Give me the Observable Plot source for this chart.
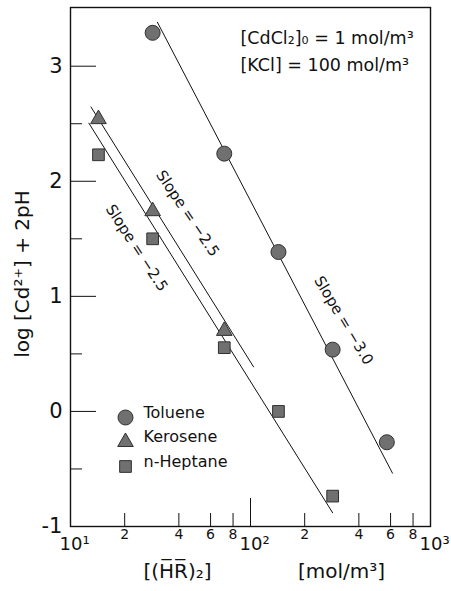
<!DOCTYPE html>
<html>
<head>
<meta charset="utf-8">
<script src="https://cdn.jsdelivr.net/npm/d3@7"></script>
<script src="https://cdn.jsdelivr.net/npm/@observablehq/plot@0.6"></script>
<style>
  body { margin: 0; background: #fff; }
  #chart svg { font-family: "DejaVu Sans", sans-serif; background: #fff; }
</style>
</head>
<body>
<div id="chart"></div>
<script>
// Dimer extractant concentration [(HR)2] in mol/m3 and log[Cd2+] + 2pH per diluent
const tolueneX = [28.6, 71.5, 143, 286, 572];
const tolueneY = [3.29, 2.24, 1.385, 0.537, -0.268];
const keroseneX = [14.3, 28.6, 71.5];
const keroseneY = [2.54, 1.74, 0.70];
const heptaneX = [14.3, 28.6, 71.5, 143, 286];
const heptaneY = [2.23, 1.50, 0.554, 0.0, -0.736];

const seriesNames = ["Toluene", "Kerosene", "n-Heptane"];
const seriesSymbols = ["circle", "triangle", "square"];
const seriesRadius = [7.5, 5.8, 6.6];

// Fitted straight lines: log[Cd2+] + 2pH = intercept + slope * log[(HR)2]
const fitSlope = [-3.0, -2.5, -2.5];
const fitIntercept = [7.83, 5.43, 5.26];
const fitFrom = [30.4, 13.0, 12.65];
const fitTo = [615, 104, 286];

// Slope annotations
const slopeText = ["Slope = \u22122.5", "Slope = \u22122.5", "Slope = \u22123.0"];
const slopeX = [44.7, 23.3, 329];
const slopeY = [1.72, 1.42, 0.79];
const slopeAngle = [56, 57, 59];

// Axis ticks
const yMajor = [-1, 0, 1, 2, 3];
const yMinor = [-0.5, 0.5, 1.5, 2.5];
const xDecades = [10, 100, 1000];
const xDecadeLabels = ["10\u00B9", "10\u00B2", "10\u00B3"];
const xMinor = [20, 40, 60, 80, 200, 400, 600, 800];
const xMinorLabels = ["2", "4", "6", "8", "2", "4", "6", "8"];
const xInner = [100];

const conditions = ["[CdCl\u2082]\u2080 = 1 mol/m\u00B3", "[KCl] = 100 mol/m\u00B3"];

const xs = [tolueneX, keroseneX, heptaneX];
const ys = [tolueneY, keroseneY, heptaneY];
const points = seriesNames.flatMap((name, i) =>
  xs[i].map((x, j) => ({series: name, x, y: ys[i][j]})));
const fits = seriesNames.flatMap((name, i) =>
  [fitFrom[i], fitTo[i]].map(x => ({series: name, x, y: fitIntercept[i] + fitSlope[i] * Math.log10(x)})));
const slopes = slopeText.map((t, i) => ({t, x: slopeX[i], y: slopeY[i], a: slopeAngle[i]}));
const minorTicks = xMinor.map((x, i) => ({x, t: xMinorLabels[i]}));
const decadeTicks = xDecades.map((x, i) => ({x, t: xDecadeLabels[i]}));

const markFill = "#707070";
const markStroke = "#303030";

const marks = [
  Plot.frame({stroke: "#111", strokeWidth: 1.4}),
  // inward ticks
  Plot.axisY(yMajor, {tickSize: -26, fill: "none", label: null, stroke: "#111"}),
  Plot.axisY(yMinor, {tickSize: -12, fill: "none", label: null, stroke: "#111"}),
  Plot.axisY(yMajor, {tickSize: 0, tickPadding: 8, fontSize: 21, label: null, fill: "#111",
    tickFormat: d => d < 0 ? "-" + (-d) : String(d)}),
  Plot.axisX(xInner, {tickSize: -28, fill: "none", label: null, stroke: "#111"}),
  Plot.axisX(xMinor, {tickSize: -13, fill: "none", label: null, stroke: "#111"}),
  // x tick labels
  Plot.text(minorTicks, {x: "x", text: "t", frameAnchor: "bottom", dy: 12, fontSize: 14, fill: "#111"}),
  Plot.text(decadeTicks, {x: "x", text: "t", frameAnchor: "bottom", textAnchor: "start", dx: -11, dy: 23,
    fontSize: 18, fill: "#111"}),
  // fitted lines
  ...seriesNames.map(name => Plot.line(fits.filter(d => d.series === name),
    {x: "x", y: "y", stroke: "#111", strokeWidth: 1})),
  // data points
  ...seriesNames.map((name, i) => Plot.dot(points.filter(d => d.series === name),
    {x: "x", y: "y", symbol: seriesSymbols[i], r: seriesRadius[i], fill: markFill, stroke: markStroke, strokeWidth: 1})),
  // slope labels along the lines
  Plot.text(slopes, {x: "x", y: "y", text: "t", rotate: "a", fontSize: 15, fill: "#111"}),
  // experimental conditions
  ...conditions.map((c, i) => Plot.text([c], {frameAnchor: "top-left", textAnchor: "start",
    dx: 170, dy: 24 + i * 27, fontSize: 17.5, fill: "#111"})),
  // legend
  ...seriesNames.map((name, i) => Plot.dot([name], {frameAnchor: "bottom-left", dx: 55, dy: -109 + i * 24.5,
    symbol: seriesSymbols[i], r: seriesRadius[i], fill: markFill, stroke: markStroke, strokeWidth: 1})),
  ...seriesNames.map((name, i) => Plot.text([name], {frameAnchor: "bottom-left", textAnchor: "start",
    dx: 73, dy: -109 + i * 24.5, fontSize: 16, fill: "#111"})),
  // axis titles
  Plot.text(["log [Cd\u00B2\u207A] + 2pH"], {frameAnchor: "left", textAnchor: "middle", dx: -48, dy: 7,
    rotate: -90, fontSize: 20, fill: "#111"}),
  Plot.text(["[(H\u0305R\u0305)\u2082]"], {frameAnchor: "bottom", dx: -73, dy: 51, fontSize: 20, fill: "#111"}),
  Plot.text(["[mol/m\u00B3]"], {frameAnchor: "bottom", dx: 91, dy: 51, fontSize: 20, fill: "#111"})
];

const chart = Plot.plot({
  width: 451,
  height: 591,
  marginLeft: 70,
  marginRight: 21,
  marginTop: 7,
  marginBottom: 65,
  x: {type: "log", domain: [10, 1000]},
  y: {domain: [-1, 3.51]},
  style: {fontFamily: "DejaVu Sans, sans-serif", color: "#111", background: "#fff"},
  marks
});
document.getElementById("chart").append(chart);
</script>
</body>
</html>
